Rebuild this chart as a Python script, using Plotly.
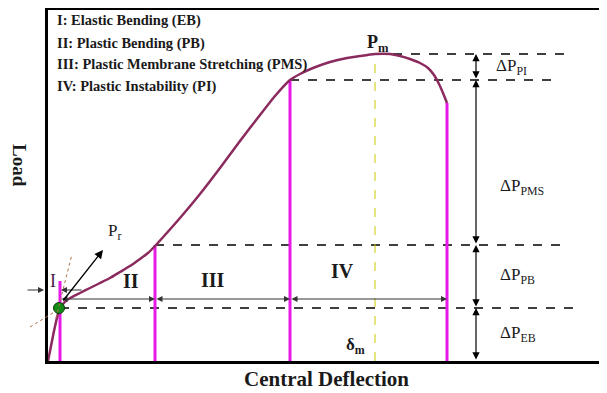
import plotly.graph_objects as go

# ---- data (deflection / load, arbitrary units) ----
curve_defl = [0, 2, 4, 6, 8, 10, 12, 15, 19, 24, 32, 42, 52, 62, 72, 82, 92, 100, 107, 117, 132,
              152, 172, 192, 212, 227, 242, 252, 265, 282, 299, 312, 327, 342, 352, 362, 372,
              380, 386, 391, 395, 399]
curve_load = [0, 10, 20, 30, 39, 47, 52, 57, 61, 64, 68, 73, 78, 83, 89, 95, 102, 108, 115, 126, 143,
              167, 193, 220, 246, 265, 281, 287, 293, 299, 303, 305, 307, 307, 305, 302, 298,
              293, 286, 277, 268, 258]

stage_ends = [12, 107, 242, 399]          # deflection at end of stages I..IV
stage_top = [80, 116, 281, 258]           # top of magenta markers
level_names = ["EB", "PB", "PMS", "PI"]
load_levels = [53, 116, 281, 307]         # Pr, end PB, end PMS, Pm
level_start = [12, 107, 242, 327]
level_end = [529, 520, 512, 517]
delta_m = 327
dim_x = 428
legend_lines = ["I: Elastic Bending (EB)", "II: Plastic Bending (PB)",
                "III: Plastic Membrane Stretching (PMS)", "IV: Plastic Instability (PI)"]
legend_y = [341, 318, 297, 275]

XR = [0, 559]
YR = [0, 351]
serif = "Liberation Serif"
dark = "#1a1a1a"

fig = go.Figure()

# dashed horizontal levels
for y, x0, x1 in zip(load_levels, level_start, level_end):
    fig.add_trace(go.Scatter(x=[x0, x1], y=[y, y], mode="lines",
                             line=dict(color="black", width=1.6, dash="dash"), hoverinfo="skip"))

# delta m line
fig.add_trace(go.Scatter(x=[delta_m, delta_m], y=[0, load_levels[3]], mode="lines",
                         line=dict(color="#c8c800", width=1, dash="dash"), hoverinfo="skip"))

# magenta stage markers
for x, t in zip(stage_ends, stage_top):
    fig.add_trace(go.Scatter(x=[x, x], y=[0, t], mode="lines",
                             line=dict(color="#e619e6", width=3), hoverinfo="skip"))

# main curve
fig.add_trace(go.Scatter(x=curve_defl, y=curve_load, mode="lines",
                         line=dict(color="#8b2a5e", width=2.5, shape="spline", smoothing=0.5),
                         hoverinfo="skip"))

# green dot at Pr
fig.add_trace(go.Scatter(x=[11], y=[load_levels[0]], mode="markers",
                         marker=dict(color="#138a13", size=11, line=dict(color="#0b3d0b", width=1)),
                         hoverinfo="skip"))

def px(x):
    return (x - XR[0]) / (XR[1] - XR[0])

def py(y):
    return (y - YR[0]) / (YR[1] - YR[0])

# tangent dotted lines
fig.add_shape(type="line", xref="paper", yref="paper", x0=px(-18), y0=py(34), x1=px(8), y1=py(50),
              line=dict(color="#b0704a", width=1, dash="dot"))
fig.add_shape(type="line", xref="paper", yref="paper", x0=px(8), y0=py(43), x1=px(24), y1=py(107),
              line=dict(color="#b0704a", width=1, dash="dot"))

ann = []

def arrow(x0, y0, x1, y1, side="end", color="black", w=1, head=2, size=1):
    ann.append(dict(x=x1, y=y1, ax=x0, ay=y0, xref="x", yref="y", axref="x", ayref="y",
                    showarrow=True, arrowhead=head, arrowside=side, arrowsize=size,
                    arrowwidth=w, arrowcolor=color, text=""))

# vertical dimension arrows
bounds = [0] + load_levels
for a, b in zip(bounds[:-1], bounds[1:]):
    arrow(dim_x, a, dim_x, b, side="end+start", w=1.2, size=1.2)

# horizontal stage arrows
hb = stage_ends
for a, b in zip(hb[:-1], hb[1:]):
    arrow(a, 62, b, 62, side="end+start", color="#333333", w=1, size=1.2)
arrow(35, 71, 13, 71, color="#333333", w=1, size=1.2)
# small arrow outside the axis (paper coordinates so it is not hidden)
ann.append(dict(x=px(-4), y=py(71), xref="paper", yref="paper", ax=-18, ay=0,
                showarrow=True, arrowhead=2, arrowsize=1.2, arrowwidth=1,
                arrowcolor="#333333", text=""))

# Pr arrow
arrow(14, 59, 55, 111, w=1.3, size=1.3)

def text(x, y, s, size, bold=False, color=dark, xanchor="center"):
    ann.append(dict(x=x, y=y, xref="x", yref="y", text=(f"<b>{s}</b>" if bold else s),
                    showarrow=False, xanchor=xanchor, yanchor="middle",
                    font=dict(family=serif, size=size, color=color)))

# Delta P labels
dp_y = [27, 85, 174, 294]
dp_x = [450, 450, 450, 446]
for n, x, y in zip(level_names, dp_x, dp_y):
    text(x, y, f"ΔP<sub>{n}</sub>", 17, xanchor="left")

# stage labels
text(5, 80, "I", 18, color="#4a1a4a")
text(83, 80, "II", 20, bold=True)
text(165, 81, "III", 20, bold=True)
text(294, 90, "IV", 20, bold=True)

text(66, 129, "P<sub>r</sub>", 17)
text(330, 318, "P<sub>m</sub>", 18, bold=True)
text(307, 15, "δ<sub>m</sub>", 17, bold=True)

for s, y in zip(legend_lines, legend_y):
    text(7, y, s, 14.5, bold=True, xanchor="left")

# axis titles (paper coordinates: outside the axis ranges)
ann.append(dict(x=px(-28), y=py(196), xref="paper", yref="paper", text="<b>Load</b>",
                textangle=90, showarrow=False, xanchor="center", yanchor="middle",
                font=dict(family=serif, size=19, color=dark)))
ann.append(dict(x=px(278), y=py(-18), xref="paper", yref="paper",
                text="<b>Central Deflection</b>", showarrow=False,
                xanchor="center", yanchor="middle",
                font=dict(family=serif, size=21, color=dark)))

# page body has an 8px margin: compensate so the plot sits where the reference has it
fig.update_layout(
    width=599, height=385,
    margin=dict(l=40, r=0, t=2, b=32),
    plot_bgcolor="white", paper_bgcolor="white",
    showlegend=False,
    annotations=ann,
    xaxis=dict(range=XR, showgrid=False, zeroline=False, showticklabels=False, ticks="",
               showline=True, linecolor="black", linewidth=3, mirror=True),
    yaxis=dict(range=YR, showgrid=False, zeroline=False, showticklabels=False, ticks="",
               showline=True, linecolor="black", linewidth=3, mirror=False),
)

fig.write_html("out.html")
